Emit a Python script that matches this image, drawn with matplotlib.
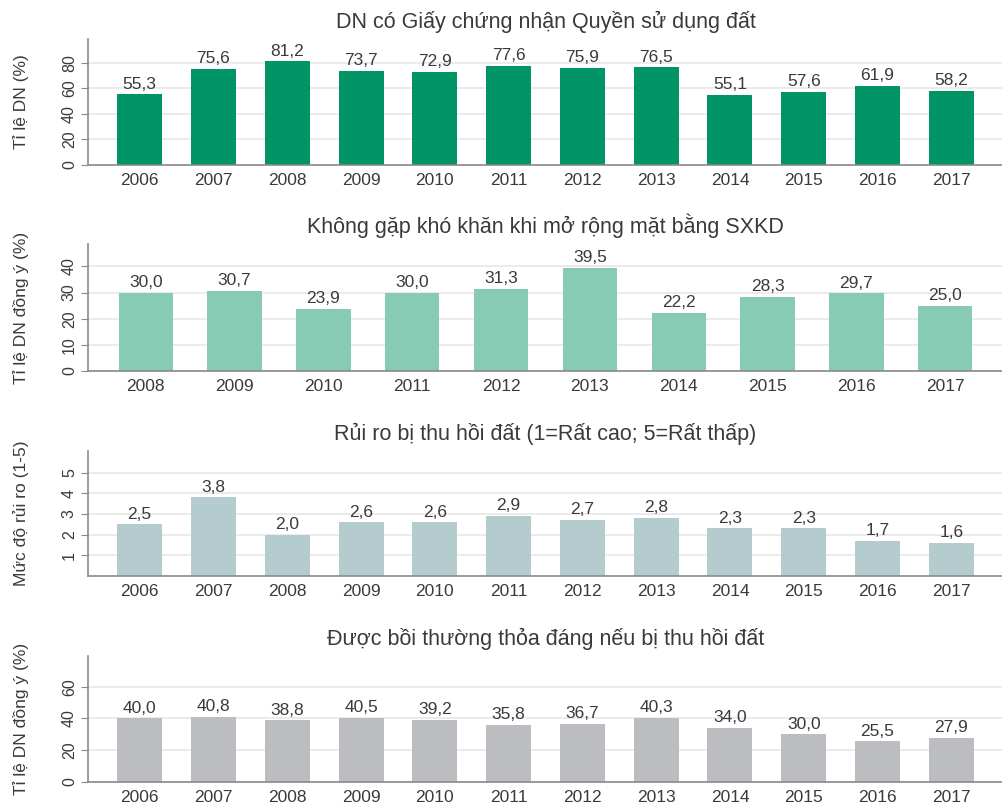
import numpy as np
import matplotlib
matplotlib.use("Agg")
import matplotlib.pyplot as plt

plt.rcParams['font.family'] = ['Liberation Sans', 'DejaVu Sans']

#### data
years_all = ['2006', '2007', '2008', '2009', '2010', '2011',
             '2012', '2013', '2014', '2015', '2016', '2017']
years_08 = ['2008', '2009', '2010', '2011', '2012',
            '2013', '2014', '2015', '2016', '2017']

land_cert = [55.3, 75.6, 81.2, 73.7, 72.9, 77.6, 75.9, 76.5, 55.1, 57.6, 61.9, 58.2]
no_difficulty = [30.0, 30.7, 23.9, 30.0, 31.3, 39.5, 22.2, 28.3, 29.7, 25.0]
risk_level = [2.5, 3.8, 2.0, 2.6, 2.6, 2.9, 2.7, 2.8, 2.3, 2.3, 1.7, 1.6]
compensation = [40.0, 40.8, 38.8, 40.5, 39.2, 35.8, 36.7, 40.3, 34.0, 30.0, 25.5, 27.9]

titles = ['DN có Giấy chứng nhận Quyền sử dụng đất',
          'Không gặp khó khăn khi mở rộng mặt bằng SXKD',
          'Rủi ro bị thu hồi đất (1=Rất cao; 5=Rất thấp)',
          'Được bồi thường thỏa đáng nếu bị thu hồi đất']
ylabels = ['Tỉ lệ DN (%)', 'Tỉ lệ DN đồng ý (%)',
           'Mức độ rủi ro (1-5)', 'Tỉ lệ DN đồng ý (%)']

TXT = '#3a3a3a'
GREY = '#8a8a8a'

#### panel helper
def panel(ax, cats, vals, color, ticks, ymax, title, ylabel, xpad):
    """ draws one bar panel with labels above bars """
    x = np.arange(len(cats))
    ax.set_axisbelow(True)
    ax.yaxis.grid(True, color='#e8e8e8', linewidth=1.2)
    bars = ax.bar(x, vals, width=0.61, color=color, zorder=2)
    for b, v in zip(bars, vals):
        ax.annotate(('%.1f' % v).replace('.', ','),
                    (b.get_x() + b.get_width() / 2, b.get_height()),
                    xytext=(0, 2), textcoords='offset points',
                    ha='center', va='bottom', fontsize=12.5, color=TXT)
    ax.set_xticks(x)
    ax.set_xticklabels(cats, fontsize=12.5, color=TXT)
    ax.set_yticks(ticks)
    ax.set_yticklabels([str(t) for t in ticks], rotation=90, va='center',
                       fontsize=11.5, color=TXT)
    ax.set_ylim(0, ymax)
    ax.set_xlim(-xpad, len(cats) - 1 + xpad)
    ax.tick_params(axis='x', length=0, pad=6)
    ax.tick_params(axis='y', length=5, color=GREY, pad=3)
    for s in ['top', 'right']:
        ax.spines[s].set_visible(False)
    for s in ['left', 'bottom']:
        ax.spines[s].set_color(GREY)
        ax.spines[s].set_linewidth(1.2)
    ax.set_title(title, fontsize=15.5, color=TXT, pad=8)
    ax.set_ylabel(ylabel, fontsize=12.5, color=TXT, labelpad=24)


fig = plt.figure(figsize=(10.03, 8.06), dpi=100)
W, H = 1003.0, 806.0
left = 88 / W
width = 1.0 - left
boxes = [(39, 165), (244, 371), (451, 576), (656, 782)]
axs = [fig.add_axes([left, 1 - b / H, width, (b - t) / H]) for t, b in boxes]

panel(axs[0], years_all, land_cert, '#009467', [0, 20, 40, 60, 80], 98.8,
      titles[0], ylabels[0], 0.7)
panel(axs[1], years_08, no_difficulty, '#87cbb4', [0, 10, 20, 30, 40], 48.6,
      titles[1], ylabels[1], 0.65)
panel(axs[2], years_all, risk_level, '#b4cccd', [1, 2, 3, 4, 5], 6.05,
      titles[2], ylabels[2], 0.7)
panel(axs[3], years_all, compensation, '#bcbdc0', [0, 20, 40, 60], 79.3,
      titles[3], ylabels[3], 0.7)

fig.savefig('out.png', dpi=100)
